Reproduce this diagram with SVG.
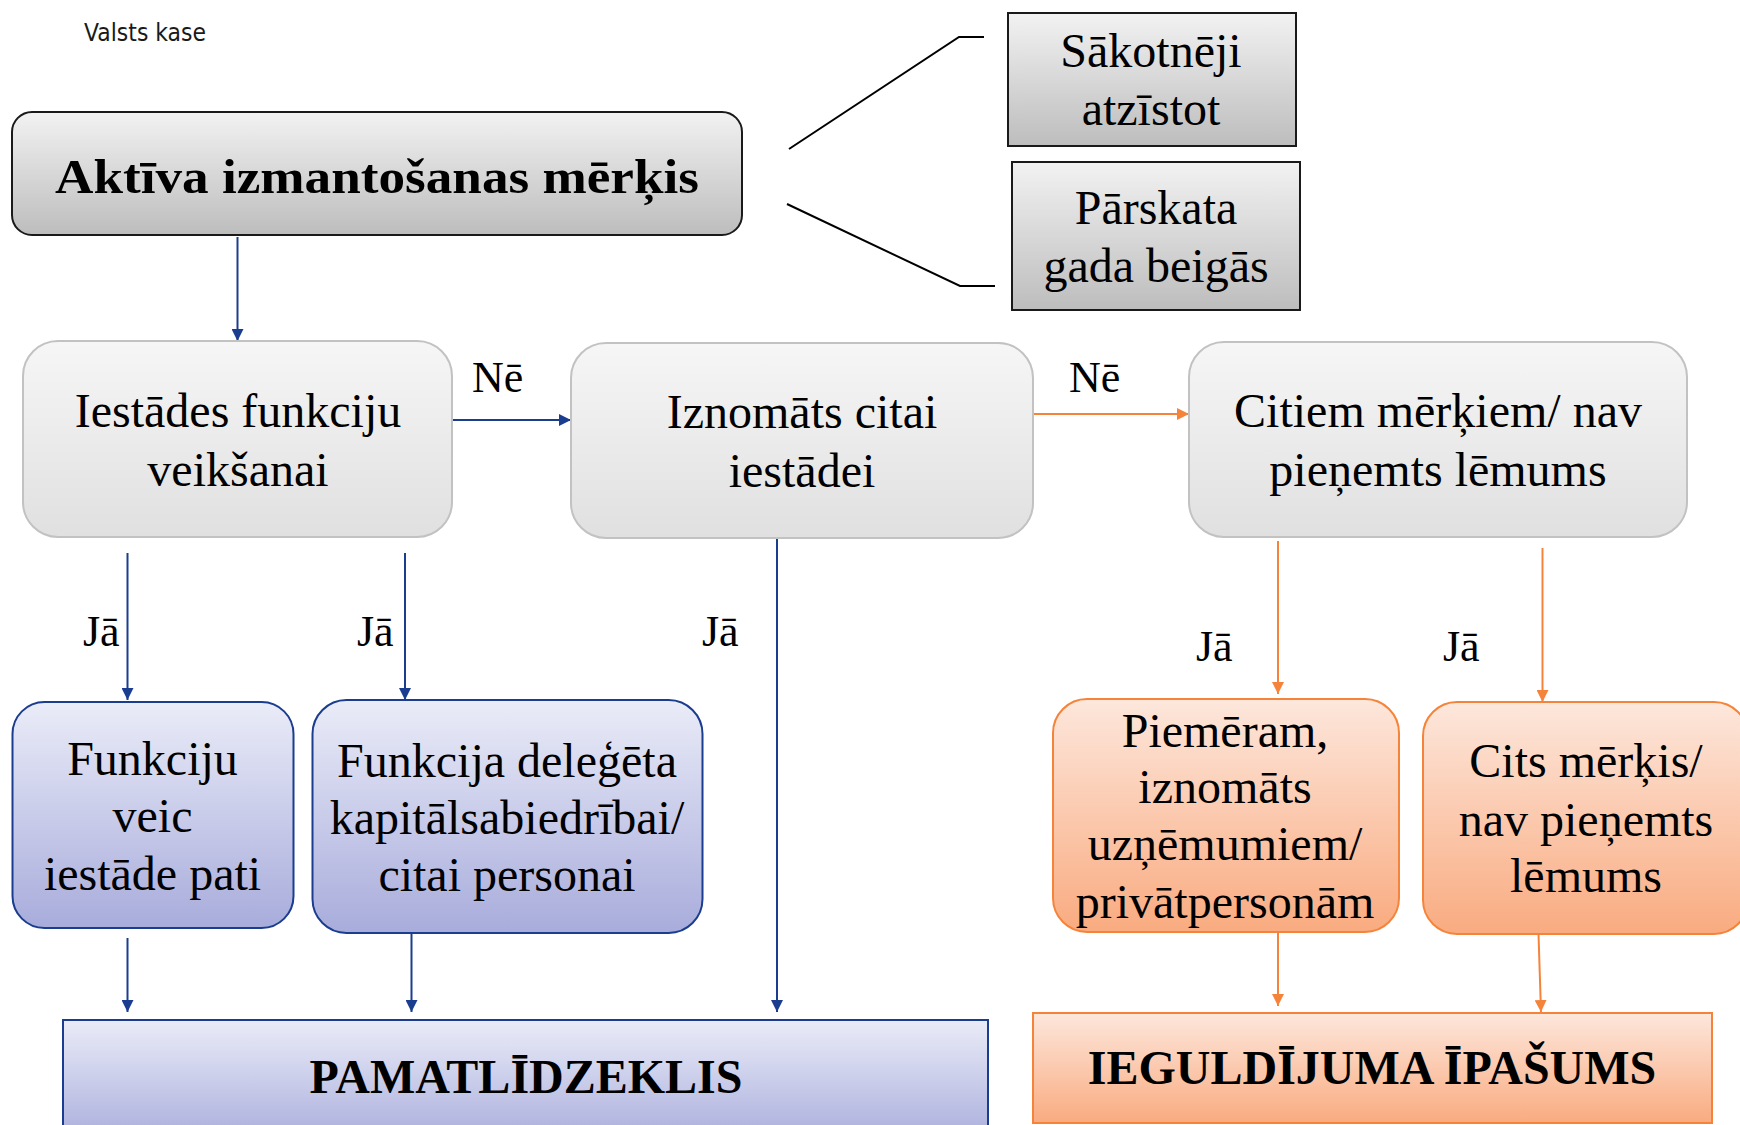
<svg xmlns="http://www.w3.org/2000/svg" width="1740" height="1125" viewBox="0 0 1740 1125">
<defs>
<linearGradient id="gGray" x1="0" y1="0" x2="0" y2="1"><stop offset="0" stop-color="#f2f2f2"/><stop offset="1" stop-color="#bdbdbd"/></linearGradient>
<linearGradient id="gLight" x1="0" y1="0" x2="0" y2="1"><stop offset="0" stop-color="#f6f6f6"/><stop offset="1" stop-color="#e0e0e0"/></linearGradient>
<linearGradient id="gBlue" x1="0" y1="0" x2="0" y2="1"><stop offset="0" stop-color="#eaecf8"/><stop offset="1" stop-color="#a8acdb"/></linearGradient>
<linearGradient id="gOrange" x1="0" y1="0" x2="0" y2="1"><stop offset="0" stop-color="#fde7dc"/><stop offset="1" stop-color="#f9ab80"/></linearGradient>
<marker id="aBlue" markerUnits="userSpaceOnUse" markerWidth="12" markerHeight="12" refX="12" refY="6" orient="auto"><path d="M0,0 L12,6 L0,12 z" fill="#1b3d8f"/></marker>
<marker id="aOrange" markerUnits="userSpaceOnUse" markerWidth="12" markerHeight="12" refX="12" refY="6" orient="auto"><path d="M0,0 L12,6 L0,12 z" fill="#f5843a"/></marker>
<style>
.t{font-family:"Liberation Serif","Times New Roman",serif;font-size:48px;fill:#000;text-anchor:middle}
.b{font-weight:bold}
.lbl{font-family:"Liberation Serif","Times New Roman",serif;font-size:44px;fill:#000}
.gray{fill:url(#gGray);stroke:#1a1a1a;stroke-width:2}
.light{fill:url(#gLight);stroke:#c2c2c2;stroke-width:2}
.blue{fill:url(#gBlue);stroke:#1b3d8f;stroke-width:2}
.orange{fill:url(#gOrange);stroke:#f5843a;stroke-width:2}
.cb{stroke:#1b3d8f;stroke-width:2;fill:none;marker-end:url(#aBlue)}
.co{stroke:#f5843a;stroke-width:2;fill:none;marker-end:url(#aOrange)}
.ck{stroke:#000;stroke-width:2;fill:none}
</style>
</defs>
<rect width="1740" height="1125" fill="#fff"/>
<text x="84" y="41" font-family="DejaVu Sans, sans-serif" font-size="24" textLength="122" lengthAdjust="spacingAndGlyphs" fill="#1a1a1a">Valsts kase</text>

<g id="connectors">
<line class="cb" x1="237.5" y1="237" x2="237.5" y2="341"/>
<line class="cb" x1="452" y1="420" x2="571" y2="420"/>
<line class="cb" x1="127.5" y1="553" x2="127.5" y2="700"/>
<line class="cb" x1="405" y1="553" x2="405" y2="700"/>
<line class="cb" x1="777" y1="538" x2="777" y2="1012"/>
<line class="cb" x1="127.5" y1="938" x2="127.5" y2="1012"/>
<line class="cb" x1="411.5" y1="933" x2="411.5" y2="1012"/>
<line class="co" x1="1033" y1="414" x2="1189" y2="414"/>
<line class="co" x1="1278" y1="541" x2="1278" y2="694"/>
<line class="co" x1="1542.5" y1="548" x2="1542.5" y2="702"/>
<line class="co" x1="1278" y1="932" x2="1278" y2="1006"/>
<line class="co" x1="1538.5" y1="934" x2="1541" y2="1012"/>
<polyline class="ck" points="789,149 959,37 984,37"/>
<polyline class="ck" points="787,204 960,286 995,286"/>
<text class="lbl" x="472" y="392">Nē</text>
<text class="lbl" x="1069" y="392">Nē</text>
<text class="lbl" x="83" y="646">Jā</text>
<text class="lbl" x="357" y="646">Jā</text>
<text class="lbl" x="702" y="646">Jā</text>
<text class="lbl" x="1196" y="661">Jā</text>
<text class="lbl" x="1443" y="661">Jā</text>
</g>

<g id="n-aktiva">
<rect class="gray" x="12" y="112" width="730" height="123" rx="20"/>
<text class="t b" x="377" y="193" font-size="55" textLength="644" lengthAdjust="spacingAndGlyphs">Aktīva izmantošanas mērķis</text>
</g>
<g id="n-sakotneji">
<rect class="gray" x="1008" y="13" width="288" height="133"/>
<text class="t" x="1151" y="67">Sākotnēji</text>
<text class="t" x="1151" y="125">atzīstot</text>
</g>
<g id="n-parskata">
<rect class="gray" x="1012" y="162" width="288" height="148"/>
<text class="t" x="1156" y="224">Pārskata</text>
<text class="t" x="1156" y="282">gada beigās</text>
</g>
<g id="n-iestades">
<rect class="light" x="23" y="341" width="429" height="196" rx="35"/>
<text class="t" x="238" y="427">Iestādes funkciju</text>
<text class="t" x="238" y="486">veikšanai</text>
</g>
<g id="n-iznomats">
<rect class="light" x="571" y="343" width="462" height="195" rx="35"/>
<text class="t" x="802" y="428">Iznomāts citai</text>
<text class="t" x="802" y="487">iestādei</text>
</g>
<g id="n-citiem">
<rect class="light" x="1189" y="342" width="498" height="195" rx="35"/>
<text class="t" x="1438" y="427">Citiem mērķiem/ nav</text>
<text class="t" x="1438" y="486">pieņemts lēmums</text>
</g>
<g id="n-funkciju">
<rect class="blue" x="12.5" y="702" width="281" height="226" rx="32"/>
<text class="t" x="152.5" y="775">Funkciju</text>
<text class="t" x="152.5" y="832">veic</text>
<text class="t" x="152.5" y="890">iestāde pati</text>
</g>
<g id="n-funkcija">
<rect class="blue" x="312.5" y="700" width="390" height="233" rx="34"/>
<text class="t" x="507" y="777">Funkcija deleģēta</text>
<text class="t" x="507" y="834">kapitālsabiedrībai/</text>
<text class="t" x="507" y="891">citai personai</text>
</g>
<g id="n-piemeram">
<rect class="orange" x="1053" y="699" width="346" height="233" rx="34"/>
<text class="t" x="1225" y="747">Piemēram,</text>
<text class="t" x="1225" y="803">iznomāts</text>
<text class="t" x="1225" y="860">uzņēmumiem/</text>
<text class="t" x="1225" y="918">privātpersonām</text>
</g>
<g id="n-cits">
<rect class="orange" x="1423" y="702" width="325" height="232" rx="34"/>
<text class="t" x="1586" y="777">Cits mērķis/</text>
<text class="t" x="1586" y="836">nav pieņemts</text>
<text class="t" x="1586" y="892">lēmums</text>
</g>
<g id="n-pamat">
<rect class="blue" x="63" y="1020" width="925" height="125"/>
<text class="t b" x="526" y="1093" font-size="47">PAMATLĪDZEKLIS</text>
</g>
<g id="n-ieguld">
<rect class="orange" x="1033" y="1013" width="679" height="110"/>
<text class="t b" x="1372" y="1084" font-size="47">IEGULDĪJUMA ĪPAŠUMS</text>
</g>
</svg>
